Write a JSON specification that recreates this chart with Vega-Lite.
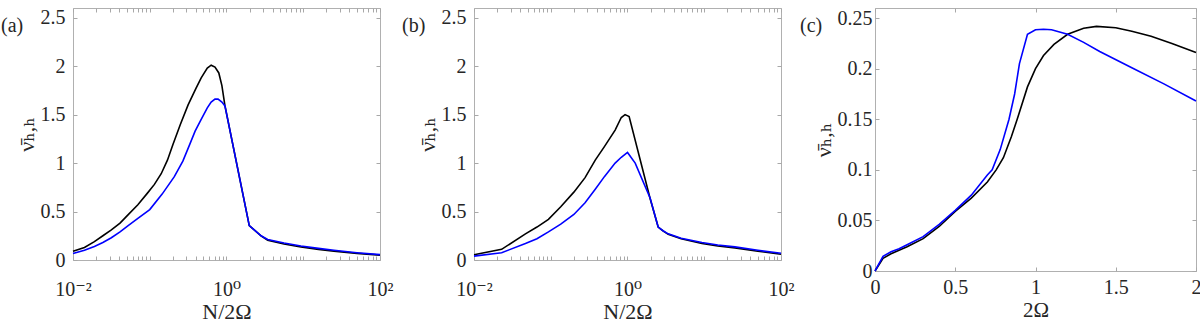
{
  "$schema": "https://vega.github.io/schema/vega-lite/v6.json",
  "padding": {"left": 0, "top": 7, "right": 0, "bottom": 0},
  "spacing": 94,
  "bounds": "flush",
  "config": {
    "font": "Liberation Serif",
    "view": {"stroke": "#b0b0b0", "strokeWidth": 1},
    "axis": {"domain": false, "grid": false, "tickColor": "#a8a8a8", "tickSize": -4, "tickWidth": 1,
      "labelFont": "Liberation Serif, DejaVu Serif", "labelFontSize": 20, "labelColor": "#262626",
      "titleFont": "Liberation Serif, DejaVu Serif", "titleFontSize": 22, "titleFontWeight": "normal", "titleColor": "#262626",
      "labelOverlap": false, "labelFlush": false},
    "title": {"font": "Liberation Serif", "fontSize": 20, "fontWeight": "normal", "color": "#262626"}
  },
  "datasets": {
    "a": [
      {"s":"k","x":0.01,"y":0.09},{"s":"k","x":0.0141,"y":0.13},{"s":"k","x":0.019,"y":0.19},{"s":"k","x":0.0245,"y":0.25},
      {"s":"k","x":0.0316,"y":0.31},{"s":"k","x":0.041,"y":0.38},{"s":"k","x":0.0513,"y":0.46},{"s":"k","x":0.07,"y":0.57},
      {"s":"k","x":0.0933,"y":0.69},{"s":"k","x":0.115,"y":0.78},{"s":"k","x":0.141,"y":0.89},{"s":"k","x":0.17,"y":1.03},{"s":"k","x":0.2,"y":1.19},
      {"s":"k","x":0.251,"y":1.40},{"s":"k","x":0.316,"y":1.60},{"s":"k","x":0.4,"y":1.77},{"s":"k","x":0.468,"y":1.88},
      {"s":"k","x":0.562,"y":1.98},{"s":"k","x":0.631,"y":2.01},{"s":"k","x":0.708,"y":1.99},{"s":"k","x":0.794,"y":1.93},
      {"s":"k","x":0.871,"y":1.80},{"s":"k","x":0.955,"y":1.59},{"s":"k","x":1.98,"y":0.355},{"s":"k","x":2.82,"y":0.248},
      {"s":"k","x":3.44,"y":0.205},{"s":"k","x":5.62,"y":0.165},{"s":"k","x":9.33,"y":0.135},{"s":"k","x":15.8,"y":0.11},
      {"s":"k","x":25.1,"y":0.092},{"s":"k","x":50.1,"y":0.068},{"s":"k","x":100,"y":0.05},
      {"s":"b","x":0.01,"y":0.066},{"s":"b","x":0.0141,"y":0.10},{"s":"b","x":0.019,"y":0.14},{"s":"b","x":0.0245,"y":0.18},
      {"s":"b","x":0.0316,"y":0.23},{"s":"b","x":0.041,"y":0.29},{"s":"b","x":0.0513,"y":0.35},{"s":"b","x":0.07,"y":0.43},
      {"s":"b","x":0.1,"y":0.52},{"s":"b","x":0.145,"y":0.68},{"s":"b","x":0.209,"y":0.86},{"s":"b","x":0.27,"y":1.02},
      {"s":"b","x":0.331,"y":1.19},{"s":"b","x":0.39,"y":1.33},{"s":"b","x":0.468,"y":1.45},
      {"s":"b","x":0.562,"y":1.57},{"s":"b","x":0.631,"y":1.63},{"s":"b","x":0.708,"y":1.66},{"s":"b","x":0.776,"y":1.66},
      {"s":"b","x":0.871,"y":1.63},{"s":"b","x":0.955,"y":1.59},{"s":"b","x":1.98,"y":0.355},{"s":"b","x":2.82,"y":0.25},
      {"s":"b","x":3.44,"y":0.212},{"s":"b","x":5.62,"y":0.175},{"s":"b","x":9.33,"y":0.145},{"s":"b","x":15.8,"y":0.12},
      {"s":"b","x":25.1,"y":0.10},{"s":"b","x":50.1,"y":0.075},{"s":"b","x":100,"y":0.055}
    ],
    "b": [
      {"s":"k","x":0.01,"y":0.055},{"s":"k","x":0.0229,"y":0.11},{"s":"k","x":0.0468,"y":0.27},{"s":"k","x":0.0661,"y":0.34},
      {"s":"k","x":0.0933,"y":0.42},{"s":"k","x":0.135,"y":0.55},{"s":"k","x":0.2,"y":0.70},{"s":"k","x":0.28,"y":0.85},
      {"s":"k","x":0.38,"y":1.03},{"s":"k","x":0.5,"y":1.17},{"s":"k","x":0.69,"y":1.34},{"s":"k","x":0.83,"y":1.47},
      {"s":"k","x":0.93,"y":1.50},{"s":"k","x":1.05,"y":1.48},{"s":"k","x":1.97,"y":0.635},{"s":"k","x":2.51,"y":0.34},
      {"s":"k","x":2.9,"y":0.30},{"s":"k","x":3.39,"y":0.265},{"s":"k","x":5.0,"y":0.22},{"s":"k","x":9.33,"y":0.17},
      {"s":"k","x":15,"y":0.145},{"s":"k","x":25.1,"y":0.125},{"s":"k","x":50,"y":0.09},{"s":"k","x":100,"y":0.06},
      {"s":"b","x":0.01,"y":0.04},{"s":"b","x":0.0229,"y":0.075},{"s":"b","x":0.0468,"y":0.17},{"s":"b","x":0.0661,"y":0.22},
      {"s":"b","x":0.0933,"y":0.29},{"s":"b","x":0.135,"y":0.37},{"s":"b","x":0.2,"y":0.47},{"s":"b","x":0.28,"y":0.59},
      {"s":"b","x":0.38,"y":0.73},{"s":"b","x":0.5,"y":0.86},{"s":"b","x":0.69,"y":1.0},{"s":"b","x":0.83,"y":1.06},{"s":"b","x":1.0,"y":1.11},
      {"s":"b","x":1.26,"y":1.0},{"s":"b","x":1.97,"y":0.64},{"s":"b","x":2.51,"y":0.34},{"s":"b","x":2.9,"y":0.302},
      {"s":"b","x":3.39,"y":0.27},{"s":"b","x":5.0,"y":0.225},{"s":"b","x":9.33,"y":0.18},{"s":"b","x":15,"y":0.155},
      {"s":"b","x":25.1,"y":0.135},{"s":"b","x":50,"y":0.10},{"s":"b","x":100,"y":0.07}
    ],
    "c": [
      {"s":"k","x":0,"y":0},{"s":"k","x":0.05,"y":0.0125},{"s":"k","x":0.1,"y":0.017},{"s":"k","x":0.15,"y":0.0205},
      {"s":"k","x":0.2,"y":0.024},{"s":"k","x":0.3,"y":0.032},{"s":"k","x":0.4,"y":0.044},{"s":"k","x":0.5,"y":0.059},
      {"s":"k","x":0.6,"y":0.072},{"s":"k","x":0.7,"y":0.088},{"s":"k","x":0.755,"y":0.1},{"s":"k","x":0.8,"y":0.112},
      {"s":"k","x":0.85,"y":0.133},{"s":"k","x":0.886,"y":0.15},{"s":"k","x":0.95,"y":0.182},{"s":"k","x":1.0,"y":0.2},
      {"s":"k","x":1.05,"y":0.213},{"s":"k","x":1.115,"y":0.224},{"s":"k","x":1.2,"y":0.234},{"s":"k","x":1.3,"y":0.240},
      {"s":"k","x":1.38,"y":0.2418},{"s":"k","x":1.5,"y":0.2405},{"s":"k","x":1.6,"y":0.237},{"s":"k","x":1.72,"y":0.232},
      {"s":"k","x":1.85,"y":0.225},{"s":"k","x":2,"y":0.216},
      {"s":"b","x":0,"y":0},{"s":"b","x":0.05,"y":0.0145},{"s":"b","x":0.1,"y":0.019},{"s":"b","x":0.15,"y":0.022},
      {"s":"b","x":0.2,"y":0.026},{"s":"b","x":0.3,"y":0.034},{"s":"b","x":0.4,"y":0.046},{"s":"b","x":0.5,"y":0.06},
      {"s":"b","x":0.6,"y":0.075},{"s":"b","x":0.7,"y":0.095},{"s":"b","x":0.73,"y":0.1},{"s":"b","x":0.78,"y":0.12},
      {"s":"b","x":0.835,"y":0.15},{"s":"b","x":0.87,"y":0.175},{"s":"b","x":0.9,"y":0.205},{"s":"b","x":0.95,"y":0.234},
      {"s":"b","x":1.0,"y":0.2385},{"s":"b","x":1.05,"y":0.239},{"s":"b","x":1.1,"y":0.2385},{"s":"b","x":1.2,"y":0.234},
      {"s":"b","x":1.3,"y":0.226},{"s":"b","x":1.4,"y":0.217},{"s":"b","x":1.6,"y":0.201},{"s":"b","x":1.8,"y":0.185},{"s":"b","x":2,"y":0.168}
    ]
  },
  "hconcat": [
    {
      "width": 307, "height": 252,
      "title": {"text": "(a)", "anchor": "start", "frame": "group", "dx": -72, "offset": -28},
      "data": {"name": "a"},
      "layer": [
        {
          "transform": [{"filter": "datum.s == 'k'"}],
          "mark": {"type": "line", "color": "#000000", "strokeWidth": 1.6},
          "encoding": {
            "x": {"field": "x", "type": "quantitative", "scale": {"type": "log", "domain": [0.01, 100]},
              "axis": {"orient": "bottom", "title": "N/2Ω", "titlePadding": 2, "labelPadding": 23,
                "values": [0.01,0.02,0.03,0.04,0.05,0.06,0.07,0.08,0.09,0.1,0.2,0.3,0.4,0.5,0.6,0.7,0.8,0.9,1,2,3,4,5,6,7,8,9,10,20,30,40,50,60,70,80,90,100],
                "labelExpr": "datum.value == 0.01 ? '10⁻²' : datum.value == 1 ? '10⁰' : datum.value == 100 ? '10²' : ''"}},
            "y": {"field": "y", "type": "quantitative", "scale": {"domain": [0, 2.5]},
              "axis": {"orient": "left", "title": "ν̄ₕ,ₕ", "titlePadding": 2, "labelPadding": 12,
                "values": [0, 0.5, 1, 1.5, 2, 2.5], "format": ".1~f"}}
          }
        },
        {
          "transform": [{"filter": "datum.s == 'b'"}],
          "mark": {"type": "line", "color": "#0000ff", "strokeWidth": 1.6},
          "encoding": {
            "x": {"field": "x", "type": "quantitative",
              "axis": {"orient": "top", "title": null, "labels": false,
                "values": [0.01,0.02,0.03,0.04,0.05,0.06,0.07,0.08,0.09,0.1,0.2,0.3,0.4,0.5,0.6,0.7,0.8,0.9,1,2,3,4,5,6,7,8,9,10,20,30,40,50,60,70,80,90,100]}},
            "y": {"field": "y", "type": "quantitative",
              "axis": {"orient": "right", "title": null, "labels": false, "values": [0, 0.5, 1, 1.5, 2, 2.5]}}
          }
        }
      ]
    },
    {
      "width": 307, "height": 252,
      "title": {"text": "(b)", "anchor": "start", "frame": "group", "dx": -72, "offset": -28},
      "data": {"name": "b"},
      "layer": [
        {
          "transform": [{"filter": "datum.s == 'k'"}],
          "mark": {"type": "line", "color": "#000000", "strokeWidth": 1.6},
          "encoding": {
            "x": {"field": "x", "type": "quantitative", "scale": {"type": "log", "domain": [0.01, 100]},
              "axis": {"orient": "bottom", "title": "N/2Ω", "titlePadding": 2, "labelPadding": 23,
                "values": [0.01,0.02,0.03,0.04,0.05,0.06,0.07,0.08,0.09,0.1,0.2,0.3,0.4,0.5,0.6,0.7,0.8,0.9,1,2,3,4,5,6,7,8,9,10,20,30,40,50,60,70,80,90,100],
                "labelExpr": "datum.value == 0.01 ? '10⁻²' : datum.value == 1 ? '10⁰' : datum.value == 100 ? '10²' : ''"}},
            "y": {"field": "y", "type": "quantitative", "scale": {"domain": [0, 2.5]},
              "axis": {"orient": "left", "title": "ν̄ₕ,ₕ", "titlePadding": 2, "labelPadding": 12,
                "values": [0, 0.5, 1, 1.5, 2, 2.5], "format": ".1~f"}}
          }
        },
        {
          "transform": [{"filter": "datum.s == 'b'"}],
          "mark": {"type": "line", "color": "#0000ff", "strokeWidth": 1.6},
          "encoding": {
            "x": {"field": "x", "type": "quantitative",
              "axis": {"orient": "top", "title": null, "labels": false,
                "values": [0.01,0.02,0.03,0.04,0.05,0.06,0.07,0.08,0.09,0.1,0.2,0.3,0.4,0.5,0.6,0.7,0.8,0.9,1,2,3,4,5,6,7,8,9,10,20,30,40,50,60,70,80,90,100]}},
            "y": {"field": "y", "type": "quantitative",
              "axis": {"orient": "right", "title": null, "labels": false, "values": [0, 0.5, 1, 1.5, 2, 2.5]}}
          }
        }
      ]
    },
    {
      "width": 321, "height": 263,
      "title": {"text": "(c)", "anchor": "start", "frame": "group", "dx": -75, "offset": -28},
      "data": {"name": "c"},
      "layer": [
        {
          "transform": [{"filter": "datum.s == 'k'"}],
          "mark": {"type": "line", "color": "#000000", "strokeWidth": 1.6},
          "encoding": {
            "x": {"field": "x", "type": "quantitative", "scale": {"domain": [0, 2]},
              "axis": {"orient": "bottom", "title": "2Ω", "titlePadding": 2, "labelPadding": 10, "titleFontSize": 21,
                "values": [0, 0.5, 1, 1.5, 2], "format": ".1~f"}},
            "y": {"field": "y", "type": "quantitative", "scale": {"domain": [0, 0.25]},
              "axis": {"orient": "left", "title": "ν̄ₕ,ₕ", "titlePadding": 2, "labelPadding": 7,
                "values": [0, 0.05, 0.1, 0.15, 0.2, 0.25], "format": ".2~f"}}
          }
        },
        {
          "transform": [{"filter": "datum.s == 'b'"}],
          "mark": {"type": "line", "color": "#0000ff", "strokeWidth": 1.6},
          "encoding": {
            "x": {"field": "x", "type": "quantitative",
              "axis": {"orient": "top", "title": null, "labels": false, "values": [0, 0.5, 1, 1.5, 2]}},
            "y": {"field": "y", "type": "quantitative",
              "axis": {"orient": "right", "title": null, "labels": false, "values": [0, 0.05, 0.1, 0.15, 0.2, 0.25]}}
          }
        }
      ]
    }
  ]
}
